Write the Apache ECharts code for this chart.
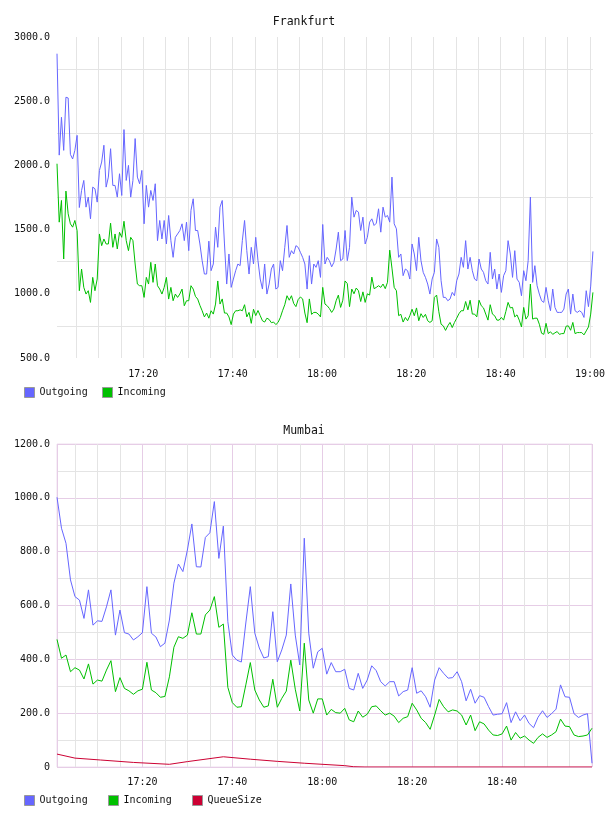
<!DOCTYPE html>
<html>
<head>
<meta charset="utf-8">
<script src="https://cdn.jsdelivr.net/npm/echarts@6/dist/echarts.min.js"></script>
<style>
html, body { margin: 0; padding: 0; background: #fff; }
#chart_main { width: 608px; height: 816px; }
</style>
</head>
<body>
<div id="chart_main"></div>
<script>
// times are minutes after 17:00
var fraStart = 40 / 60, fraStep = 0.5;
var mumStart = 1, mumStep = 1;

var fraOutgoing = [
    2870, 2080, 2375, 2117, 2531, 2525, 2086, 2050, 2117, 2234,
    1672, 1805, 1883, 1675, 1753, 1584, 1831, 1818, 1714, 1961,
    2026, 2157, 1831, 1909, 2130, 1844, 1844, 1753, 1935, 1766,
    2279, 1883, 2000, 1753, 1883, 2209, 1909, 1857, 1961, 1545,
    1844, 1675, 1805, 1727, 1857, 1414, 1571, 1427, 1571, 1388,
    1610, 1414, 1284, 1440, 1466, 1492, 1545, 1414, 1558, 1336,
    1650, 1740, 1493, 1493, 1388, 1258, 1154, 1154, 1410, 1180,
    1232, 1519, 1362, 1675, 1727, 1388, 1076, 1310, 1050, 1115,
    1180, 1232, 1219, 1414, 1571, 1336, 1154, 1362, 1232, 1440,
    1258, 1115, 1037, 1232, 998, 1076, 1193, 1232, 1037, 1050,
    1258, 1180, 1362, 1532, 1284, 1336, 1310, 1375, 1362, 1323,
    1284, 1232, 1037, 1297, 1076, 1232, 1206, 1258, 1128, 1540,
    1232, 1284, 1258, 1210, 1245, 1349, 1480, 1258, 1271, 1493,
    1258, 1362, 1753, 1597, 1649, 1636, 1493, 1597, 1388, 1440,
    1558, 1584, 1532, 1550, 1662, 1480, 1675, 1597, 1610, 1558,
    1909, 1545, 1506, 1284, 1310, 1141, 1193, 1180, 1115, 1388,
    1310, 1180, 1440, 1258, 1167, 1128, 1076, 998, 1115, 1167,
    1427, 1362, 1102, 972, 972, 946, 959, 1011, 985, 1102,
    1154, 1284, 1206, 1414, 1193, 1284, 1180, 1115, 1102, 1271,
    1193, 1167, 1102, 1076, 1323, 1115, 1193, 1037, 1154, 1011,
    1141, 1180, 1414, 1310, 1128, 1336, 1115, 1089, 985, 1180,
    1102, 1258, 1753, 1089, 1219, 1063, 998, 946, 933, 1050,
    946, 868, 1037, 894, 855, 855, 855, 881, 998, 1037,
    842, 998, 868, 855, 868, 855, 816, 1024, 900, 1060,
    1330
];
var fraIncoming = [
    2013, 1558, 1727, 1271, 1800, 1623, 1545, 1519, 1571, 1492,
    1024, 1193, 1050, 998, 1024, 933, 1128, 1024, 1115, 1466,
    1375, 1427, 1388, 1388, 1550, 1362, 1466, 1349, 1479, 1440,
    1565, 1414, 1336, 1440, 1414, 1232, 1076, 1063, 1063, 972,
    1128, 1076, 1245, 1089, 1232, 1063, 1037, 998, 1050, 1128,
    959, 1050, 946, 998, 972, 998, 1037, 907, 946, 946,
    1063, 1037, 980, 959, 910, 868, 820, 850, 810, 868,
    842, 920, 1100, 920, 960, 850, 850, 820, 760, 842,
    868, 868, 875, 868, 915, 820, 855, 770, 880, 830,
    870, 830, 790, 780, 810, 800, 775, 780, 760, 777,
    815, 868, 915, 985, 950, 985, 925, 900, 955, 975,
    960, 850, 775, 960, 840, 855, 855, 842, 820, 1050,
    920, 907, 885, 855, 881, 946, 990, 894, 950, 1100,
    1080, 900, 1037, 1000, 1045, 1024, 940, 1015, 933, 1000,
    990, 1130, 1040, 1050, 1063, 1050, 1076, 1040, 1090, 1340,
    1200, 1050, 1024, 830, 840, 780, 816, 790, 829, 880,
    829, 890, 790, 845, 816, 840, 790, 777, 790, 972,
    990, 860, 763, 750, 715, 750, 777, 737, 777, 810,
    845, 868, 868, 940, 875, 950, 842, 842, 820, 950,
    907, 890, 842, 795, 915, 842, 829, 795, 795, 816,
    795, 862, 933, 890, 894, 820, 836, 795, 742, 894,
    803, 829, 1076, 803, 810, 810, 763, 693, 684, 770,
    690, 704, 684, 696, 706, 684, 690, 690, 748, 750,
    716, 777, 690, 698, 698, 698, 680, 711, 742, 842,
    1011
];

var mumOutgoing = [
    1002, 887, 831, 695, 633, 620, 552, 658, 527, 543,
    541, 595, 658, 490, 583, 499, 494, 472, 484, 499,
    670, 497, 483, 447, 460, 546, 683, 754, 726, 806,
    903, 744, 743, 853, 870, 986, 775, 895, 540, 416,
    397, 390, 535, 670, 497, 442, 405, 410, 577, 391,
    435, 490, 680, 490, 379, 850, 497, 367, 428, 441,
    345, 388, 354, 354, 363, 292, 286, 348, 292, 323,
    376, 358, 317, 301, 317, 317, 264, 280, 286, 369,
    274, 283, 261, 222, 323, 369, 348, 330, 332, 354,
    317, 246, 289, 237, 265, 259, 224, 193, 196, 198,
    239, 165, 205, 172, 193, 162, 146, 185, 209, 184,
    198, 215, 305, 261, 259, 198, 184, 193, 198, 14
];
var mumIncoming = [
    474, 404, 416, 354, 369, 360, 327, 383, 308, 323,
    319, 360, 395, 280, 332, 292, 283, 270, 283, 289,
    389, 286, 276, 259, 262, 335, 445, 484, 478, 490,
    573, 494, 494, 565, 583, 633, 519, 531, 296, 239,
    222, 224, 305, 388, 286, 249, 222, 227, 326, 222,
    255, 282, 397, 289, 208, 460, 249, 200, 253, 253,
    193, 214, 202, 200, 218, 175, 168, 208, 185, 196,
    224, 227, 209, 193, 200, 189, 165, 181, 187, 237,
    212, 181, 165, 140, 193, 251, 224, 205, 212, 208,
    193, 156, 193, 135, 168, 160, 137, 119, 117, 123,
    152, 100, 128, 107, 115, 100, 88, 110, 123, 110,
    119, 131, 178, 152, 150, 119, 113, 115, 119, 144
];
var queueTimes = [1, 5, 10.7, 18, 26, 30, 38, 44, 50, 56, 65, 67, 69.5, 120];
var queueValues = [48, 33, 26, 17, 10, 20, 38, 29, 21, 14, 5, 1, 0, 0];

var fraTicks = [500, 1000, 1500, 2000, 2500, 3000];
var mumTicks = [0, 200, 400, 600, 800, 1000, 1200];

var FONT = 'DejaVu Sans Mono';
var TXT = '#111';
var BLUE = '#6666ff', GREEN = '#00c000', RED = '#cc0033';
var GRAY = '#e4e4e4', PURPLE = '#e6cde6';

function timeLabel(v) {
    var h = 17 + Math.floor(v / 60), m = Math.round(v % 60);
    return h + ':' + (m < 10 ? '0' : '') + m;
}
function pairs(values, start, step) {
    return values.map(function (v, i) { return [start + i * step, v]; });
}
function line(name, data, color, xi, yi) {
    return {
        name: name, type: 'line', data: data, xAxisIndex: xi, yAxisIndex: yi,
        showSymbol: false, symbol: 'none', z: 3,
        lineStyle: { color: color, width: 1 }, itemStyle: { color: color }
    };
}
function legendItem(name, left, top) {
    return {
        data: [name], left: left, top: top, padding: 0,
        icon: 'rect', itemWidth: 10, itemHeight: 10,
        itemStyle: { borderColor: '#999', borderWidth: 1 },
        textStyle: { fontFamily: FONT, fontSize: 10, color: TXT },
        selectedMode: false
    };
}
var labelStyle = { color: TXT, fontFamily: FONT, fontSize: 10 };

$chart = echarts.init(document.getElementById('chart_main'));
option = {
    animation: false,
    backgroundColor: '#fff',
    title: [
        { text: 'Frankfurt', left: 'center', top: 11,
          textStyle: { fontFamily: FONT, fontSize: 11.5, fontWeight: 'normal', color: TXT } },
        { text: 'Mumbai', left: 'center', top: 420,
          textStyle: { fontFamily: FONT, fontSize: 11.5, fontWeight: 'normal', color: TXT } }
    ],
    legend: [
        legendItem('Outgoing', 24, 387),
        legendItem('Incoming', 102, 387),
        legendItem('Outgoing', 24, 795),
        legendItem('Incoming', 108, 795),
        legendItem('QueueSize', 192, 795)
    ],
    grid: [
        { left: 57, top: 37, width: 536, height: 321 },
        { left: 57, top: 444, width: 535, height: 323, show: true,
          borderColor: '#efdfef', borderWidth: 1, backgroundColor: 'transparent' }
    ],
    xAxis: [
        { type: 'value', gridIndex: 0, min: fraStart, max: fraStart + (fraOutgoing.length - 1) * fraStep,
          splitNumber: 24, minInterval: 5, maxInterval: 5,
          axisLine: { show: false }, axisTick: { show: false },
          axisLabel: Object.assign({ margin: 11, formatter: function (v) {
              return (Math.abs(v % 20) < 1e-6 && v > 0) ? timeLabel(v) : '';
          } }, labelStyle),
          splitLine: { show: true, showMinLine: false, showMaxLine: false, lineStyle: { color: GRAY } } },
        { type: 'value', gridIndex: 1, min: mumStart, max: mumStart + (mumOutgoing.length - 1) * mumStep,
          splitNumber: 24, minInterval: 5, maxInterval: 5,
          axisLine: { show: false }, axisTick: { show: false },
          axisLabel: Object.assign({ margin: 10, formatter: function (v) {
              return (Math.abs(v % 20) < 1e-6 && v > 0 && v < 120) ? timeLabel(v) : '';
          } }, labelStyle),
          splitLine: { show: true, lineStyle: { color: GRAY } } },
        { type: 'value', gridIndex: 1, min: mumStart, max: mumStart + (mumOutgoing.length - 1) * mumStep,
          splitNumber: 6, minInterval: 20, maxInterval: 20, position: 'bottom',
          axisLine: { show: false }, axisTick: { show: false }, axisLabel: { show: false },
          splitLine: { show: true, lineStyle: { color: PURPLE } } }
    ],
    yAxis: [
        { type: 'value', gridIndex: 0, min: 500, max: 3000, interval: 250,
          axisLine: { show: false }, axisTick: { show: false },
          axisLabel: Object.assign({ margin: 7, formatter: function (v) {
              return fraTicks.indexOf(v) >= 0 ? v.toFixed(1) : '';
          } }, labelStyle),
          splitLine: { show: true, lineStyle: { color: ['rgba(0,0,0,0)', GRAY] } } },
        { type: 'value', gridIndex: 1, min: 0, max: 1200, interval: 100,
          axisLine: { show: false }, axisTick: { show: false },
          axisLabel: Object.assign({ margin: 7, formatter: function (v) {
              if (mumTicks.indexOf(v) < 0) return '';
              return v === 0 ? '0' : v.toFixed(1);
          } }, labelStyle),
          splitLine: { show: true, lineStyle: { color: GRAY } } },
        { type: 'value', gridIndex: 1, min: 0, max: 1200, interval: 200, position: 'left',
          axisLine: { show: false }, axisTick: { show: false }, axisLabel: { show: false },
          splitLine: { show: true, lineStyle: { color: PURPLE } } }
    ],
    series: [
        line('Outgoing', pairs(fraOutgoing, fraStart, fraStep), BLUE, 0, 0),
        line('Incoming', pairs(fraIncoming, fraStart, fraStep), GREEN, 0, 0),
        line('Outgoing', pairs(mumOutgoing, mumStart, mumStep), BLUE, 1, 1),
        line('Incoming', pairs(mumIncoming, mumStart, mumStep), GREEN, 1, 1),
        line('QueueSize', queueTimes.map(function (t, i) { return [t, queueValues[i]]; }), RED, 1, 1)
    ]
};
$chart.setOption(option);
</script>
</body>
</html>
